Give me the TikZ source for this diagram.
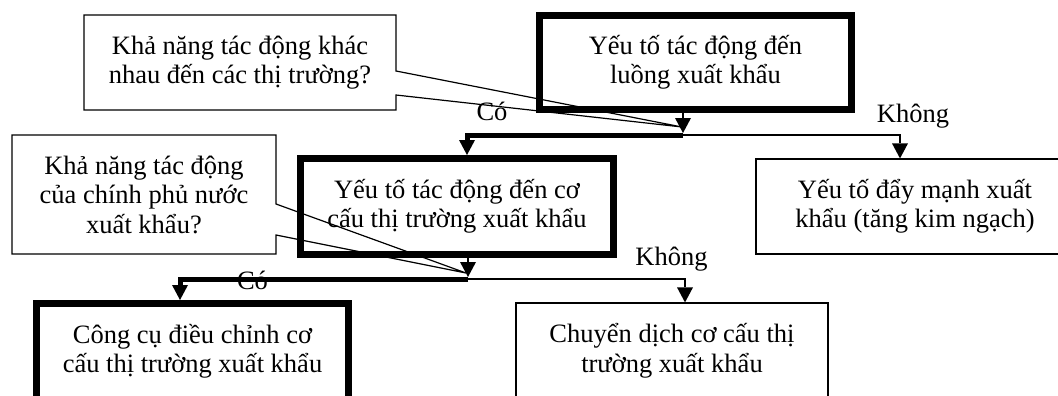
\documentclass[tikz,border=0pt]{standalone}
\usepackage{fontspec}
\setmainfont{Liberation Serif}
\usetikzlibrary{arrows.meta,calc}
\begin{document}
\begin{tikzpicture}[x=1pt,y=-1pt,
  txt/.style={font=\fontsize{26.5}{29.5}\selectfont,align=center,inner sep=0pt},
  thickbox/.style={txt,draw,line width=7pt,minimum width=312pt,minimum height=95pt},
  thinbox/.style={txt,draw,line width=1.2pt,minimum width=312pt,minimum height=95pt},
  callout/.style={txt,outer sep=0pt},
  tip/.style={-{Triangle[width=16pt,length=15pt,line width=0pt]}},
  thickline/.style={line width=5pt,line join=miter},
  thinline/.style={line width=1.2pt},
  lbl/.style={font=\fontsize{26.5}{29.5}\selectfont,inner sep=0pt,anchor=base}]
\useasboundingbox (0,0) rectangle (1058,396);
\clip (0,0) rectangle (1058,396);

% boxes
\node[thickbox,minimum height=94pt] (b1) at (695.5,62.5) {Yếu tố tác động đến\\luồng xuất khẩu};
\node[thickbox,minimum width=313pt,minimum height=96pt] (b2) at (457,206.5) {Yếu tố tác động đến cơ\\cấu thị trường xuất khẩu};
\node[thinbox,minimum width=318pt] (b3) at (915,206.5) {Yếu tố đẩy mạnh xuất\\khẩu (tăng kim ngạch)};
\node[thickbox,minimum height=96pt] (b4) at (192.5,351.5) {Công cụ điều chỉnh cơ\\cấu thị trường xuất khẩu};
\node[thinbox,minimum height=96pt] (b5) at (672,351) {Chuyển dịch cơ cấu thị\\trường xuất khẩu};

% labels
\node[lbl] (co1) at (492,120.5) {Có};
\node[lbl] (kh1) at (913,122) {Không};
\node[lbl] (co2) at (252.5,289.5) {Có};
\node[lbl] (kh2) at (671.5,265) {Không};

% junctions
\coordinate (j1) at (683,135);
\coordinate (k1) at (467,135);
\coordinate (m1) at (900,135);
\coordinate (j2) at (468,279);
\coordinate (k2) at (180,279);
\coordinate (m2) at (685,279);

% connectors
\draw[thinline,tip] (b1.south -| j1) -- ($(j1)+(0,-2)$);
\draw[thickline,tip] (j1) -- (k1) -- (k1 |- b2.north);
\draw[thinline,tip] (j1) -- (m1) -- (m1 |- b3.north);
\draw[thinline,tip] (b2.south -| j2) -- ($(j2)+(0,-2)$);
\draw[thickline,tip] (j2) -- (k2) -- (k2 |- b4.north);
\draw[thinline,tip] (j2) -- (m2) -- (m2 |- b5.north);

% callouts
\node[callout,minimum width=312pt,minimum height=95pt] (c1) at (240,62.5) {Khả năng tác động khác\\nhau đến các thị trường?};
\coordinate (t1) at (682,127);
\draw[thinline,line join=miter] (c1.north west) -- (c1.north east) -- ($(c1.north east)+(0,56)$) -- (t1) -- ($(c1.north east)+(0,80)$) -- (c1.south east) -- (c1.south west) -- cycle;

\node[callout,minimum width=264pt,minimum height=119pt] (c2) at (144,194.5) {Khả năng tác động\\của chính phủ nước\\xuất khẩu?};
\coordinate (t2) at (466,273);
\draw[thinline,line join=miter] (c2.north west) -- (c2.north east) -- ($(c2.north east)+(0,69)$) -- (t2) -- ($(c2.north east)+(0,100)$) -- (c2.south east) -- (c2.south west) -- cycle;
\end{tikzpicture}
\end{document}
